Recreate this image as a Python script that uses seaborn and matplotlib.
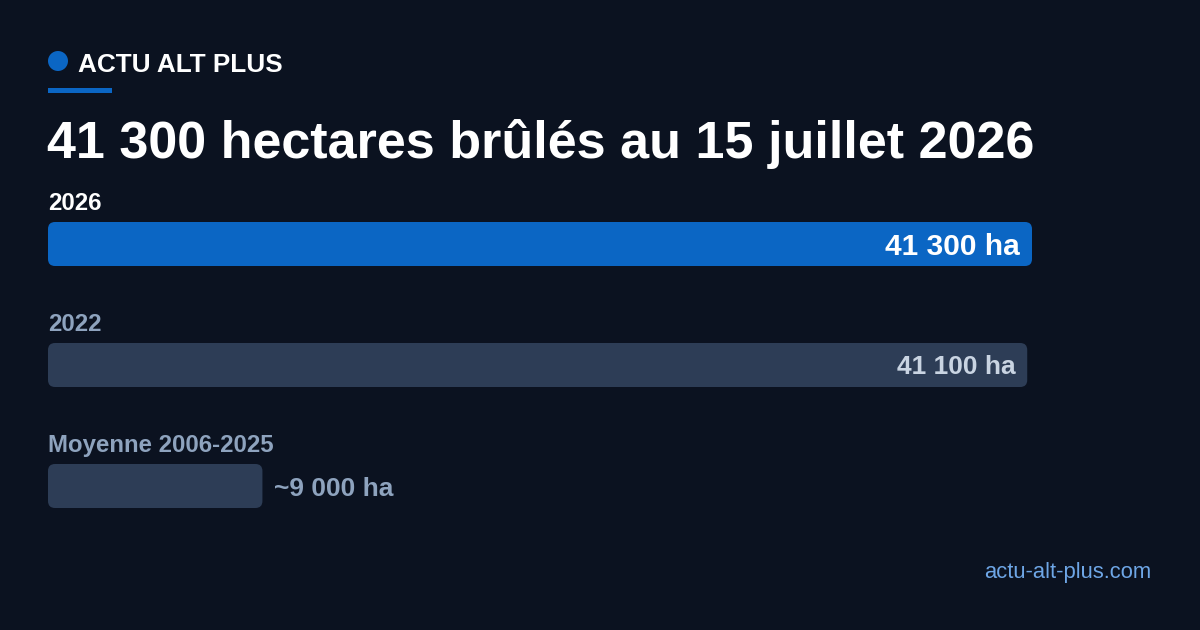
import matplotlib
matplotlib.use("Agg")
import matplotlib.pyplot as plt
import matplotlib.transforms as mtransforms
from matplotlib.patches import FancyBboxPatch, Circle, Rectangle
import seaborn as sns
import pandas as pd

# ---- data ----
categories = ["2026", "2022", "Moyenne 2006-2025"]
values = [41300, 41100, 9000]
value_labels = ["41 300 ha", "41 100 ha", "~9 000 ha"]
title = "41 300 hectares brûlés au 15 juillet 2026"
brand = "ACTU ALT PLUS"
footer = "actu-alt-plus.com"

# ---- style ----
BG = "#0b1220"
BLUE = "#0b66c4"
GREY_BAR = "#2d3d56"
MUTED = "#8ea3be"
bar_colors = [BLUE, GREY_BAR, GREY_BAR]
cat_colors = ["#ffffff", MUTED, MUTED]
val_colors = ["#ffffff", "#c9d4e2", MUTED]
val_sizes = [21.5, 19, 19]
val_inside = [True, True, False]

sns.set_theme(style="white")
plt.rcParams["font.family"] = ["Liberation Sans", "DejaVu Sans"]

W, H, DPI = 1200, 630, 100
fig = plt.figure(figsize=(W / DPI, H / DPI), dpi=DPI, facecolor=BG)

# axes region in pixels
ax_left, ax_right = 48, 1032
ax_top, ax_bot = 200, 530
row_px = 121
first_center = 244
ax = fig.add_axes([ax_left / W, (H - ax_bot) / H, (ax_right - ax_left) / W, (ax_bot - ax_top) / H])
ax.set_facecolor(BG)

df = pd.DataFrame({"cat": categories, "val": values})
bar_w = 44 / row_px
sns.barplot(data=df, x="val", y="cat", hue="cat", palette=bar_colors, orient="h",
            width=bar_w, legend=False, ax=ax, saturation=1)

y_top = -(first_center - ax_top) / row_px
y_bot = y_top + (ax_bot - ax_top) / row_px
ax.set_xlim(0, max(values))
ax.set_ylim(y_bot, y_top)
ax.axis("off")

# replace rectangles with rounded ones
x_per_px = max(values) / (ax_right - ax_left)
y_per_px = 1 / row_px
radius_px = 7
for p, c in zip(list(ax.patches), bar_colors):
    x0, y0, w, h = p.get_x(), p.get_y(), p.get_width(), p.get_height()
    p.remove()
    fb = FancyBboxPatch((x0, y0), w, h,
                        boxstyle=f"round,pad=0,rounding_size={radius_px * x_per_px}",
                        mutation_aspect=y_per_px / x_per_px,
                        facecolor=c, edgecolor="none")
    ax.add_patch(fb)

# category labels and value labels
for i, (cat, v, lab) in enumerate(zip(categories, values, value_labels)):
    top = i - bar_w / 2
    t = mtransforms.offset_copy(ax.transData, fig=fig, x=0, y=12, units="dots")
    ax.text(0, top, cat, transform=t, ha="left", va="baseline",
            fontsize=17.3, fontweight="bold", color=cat_colors[i])
    if val_inside[i]:
        t2 = mtransforms.offset_copy(ax.transData, fig=fig, x=-12, y=0, units="dots")
        ax.text(v, i, lab, transform=t2, ha="right", va="center_baseline",
                fontsize=val_sizes[i], fontweight="bold", color=val_colors[i])
    else:
        t2 = mtransforms.offset_copy(ax.transData, fig=fig, x=12, y=0, units="dots")
        ax.text(v, i, lab, transform=t2, ha="left", va="center_baseline",
                fontsize=val_sizes[i], fontweight="bold", color=val_colors[i])

# header
fig.add_artist(Circle((0.58, (H - 61) / DPI), 0.10, transform=fig.dpi_scale_trans,
                      facecolor=BLUE, edgecolor="none"))
fig.text(78 / W, (H - 72) / H, brand, ha="left", va="baseline",
         fontsize=18.8, fontweight="bold", color="white")
fig.add_artist(Rectangle((0.48, (H - 93) / DPI), 0.64, 0.05, transform=fig.dpi_scale_trans,
                         facecolor=BLUE, edgecolor="none"))
fig.text(47 / W, (H - 158) / H, title, ha="left", va="baseline",
         fontsize=37.5, fontweight="bold", color="white")
fig.text(1151 / W, (H - 578) / H, footer, ha="right", va="baseline",
         fontsize=15.8, color="#6ea6e6")

fig.savefig("out.png", dpi=DPI, facecolor=BG)
